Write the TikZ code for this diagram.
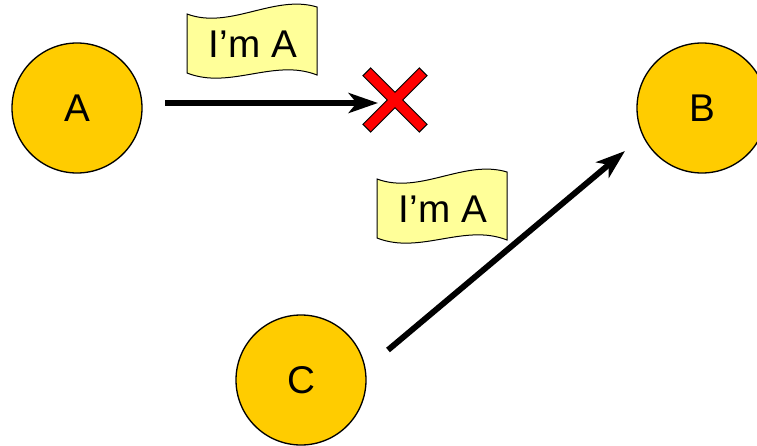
\documentclass[tikz,border=0pt]{standalone}
\usepackage{fontspec}
\setmainfont{Liberation Sans}
\usetikzlibrary{arrows.meta}
\definecolor{Gold}{HTML}{FFCC00}
\definecolor{NoteYellow}{HTML}{FFFF99}
\definecolor{Red}{HTML}{FF0000}

\begin{document}
\begin{tikzpicture}[x=0.75pt,y=-0.75pt,
      peer/.style={circle,draw,line width=1pt,fill=Gold,minimum size=97.5pt,
        inner sep=0pt,font=\fontsize{29}{33}\selectfont},
      msg/.style={inner sep=0pt,font=\fontsize{29}{33}\selectfont},
      sent/.style={-{Stealth[length=22pt,width=15pt,inset=6pt]},line width=4.4pt},
      wave/.pic={\draw[fill=NoteYellow,line width=0.75pt]
        (-65,-28) .. controls (-22,-12) and (22,-48) .. (65,-35) -- (65,33)
        .. controls (22,16) and (-22,48) .. (-65,31) -- cycle;}
    ]
      \useasboundingbox (0,0) rectangle (757,446);
      \node[peer] (A) at (77,108) {A};
      \node[peer] (B) at (702,108) {B};
      \node[peer] (C) at (301,380) {C};
      \pic at (252,42) {wave};
      \node[msg] (msgA) at (253,44) {I’m A};
      \pic at (442,207) {wave};
      \node[msg] (msgC) at (443,209) {I’m A};
      \coordinate (fromA) at (165,103);
      \coordinate (lost) at (378,103);
      \coordinate (cross) at (395,100);
      \coordinate (fromC) at (388,350);
      \coordinate (toB) at (625,151);
      \draw[sent] (fromA) -- (lost);
      \draw[line width=9pt] ([shift={(-28.6,-28.6)}]cross) -- ([shift={(28.6,28.6)}]cross);
      \draw[line width=9pt] ([shift={(28.6,-28.6)}]cross) -- ([shift={(-28.6,28.6)}]cross);
      \draw[Red,line width=7.2pt,shorten <=1pt,shorten >=1pt] ([shift={(-28.6,-28.6)}]cross) -- ([shift={(28.6,28.6)}]cross);
      \draw[Red,line width=7.2pt,shorten <=1pt,shorten >=1pt] ([shift={(28.6,-28.6)}]cross) -- ([shift={(-28.6,28.6)}]cross);
      \draw[sent] (fromC) -- (toB);
    \end{tikzpicture}
\end{document}
